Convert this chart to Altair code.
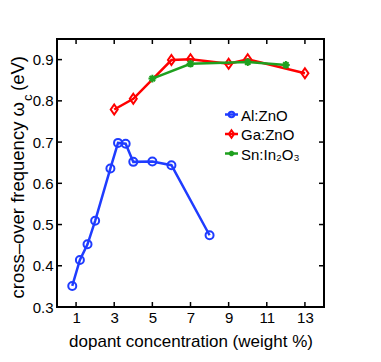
import altair as alt
import pandas as pd

al_x = [0.8, 1.2, 1.6, 2.0, 2.8, 3.2, 3.6, 4.0, 5.0, 6.0, 8.0]
al_y = [0.351, 0.414, 0.452, 0.509, 0.636, 0.698, 0.696, 0.652, 0.653, 0.644, 0.474]
ga_x = [3, 4, 6, 7, 9, 10, 13]
ga_y = [0.779, 0.805, 0.899, 0.901, 0.890, 0.901, 0.867]
sn_x = [5, 7, 10, 12]
sn_y = [0.854, 0.890, 0.894, 0.887]
x_ticks = [1, 3, 5, 7, 9, 11, 13]
y_ticks = [0.3, 0.4, 0.5, 0.6, 0.7, 0.8, 0.9]
series = ["Al:ZnO", "Ga:ZnO", "Sn:In₂O₃"]
colors = ["#1f3cff", "#ff0000", "#1fa01f"]

W, H = 267, 268
FONT = "Liberation Sans"

DIAMOND = "M0,-1L0.7,0L0,1L-0.7,0Z"
STAR = "M-1,0L1,0M0,-1L0,1M-0.7,-0.7L0.7,0.7M-0.7,0.7L0.7,-0.7"

xs = alt.Scale(domain=[0, 14], nice=False, zero=False)
ys = alt.Scale(domain=[0.3, 0.95], nice=False, zero=False)

xax = alt.Axis(values=x_ticks, ticks=False, domain=False, grid=False, labelFont=FONT,
               labelFontSize=15, labelColor="black", labelPadding=3,
               title="dopant concentration (weight %)", titleFont=FONT, titleFontSize=17,
               titleFontWeight="normal", titleColor="black", titlePadding=8)
yax = alt.Axis(values=y_ticks, ticks=False, domain=False, grid=False, labelFont=FONT,
               labelFontSize=15, labelColor="black", labelPadding=4, format=".1f", title="")

def series_layers(xv, yv, color, shape, size, first=False):
    df = pd.DataFrame({"x": xv, "y": yv})
    X = alt.X("x:Q", scale=xs, axis=xax) if first else alt.X("x:Q", scale=xs)
    Y = alt.Y("y:Q", scale=ys, axis=yax) if first else alt.Y("y:Q", scale=ys)
    line = alt.Chart(df).mark_line(color=color, strokeWidth=2.5).encode(x=X, y=Y)
    pts = alt.Chart(df).mark_point(shape=shape, size=size, filled=False, color=color,
                                   strokeWidth=2, opacity=1).encode(x="x:Q", y="y:Q")
    return [line, pts]

layers = []
layers += series_layers(al_x, al_y, colors[0], "circle", 64, first=True)
layers += series_layers(ga_x, ga_y, colors[1], DIAMOND, 100)
layers += series_layers(sn_x, sn_y, colors[2], STAR, 60)

# inward ticks on all four sides
xt = pd.DataFrame({"x": x_ticks})
yt = pd.DataFrame({"y": y_ticks})
layers.append(alt.Chart(xt).mark_rule(color="black", strokeWidth=1.5).encode(
    x=alt.X("x:Q", scale=xs), y=alt.value(H), y2=alt.value(H - 5)))
layers.append(alt.Chart(xt).mark_rule(color="black", strokeWidth=1.5).encode(
    x=alt.X("x:Q", scale=xs), y=alt.value(0), y2=alt.value(5)))
layers.append(alt.Chart(yt).mark_rule(color="black", strokeWidth=1.5).encode(
    y=alt.Y("y:Q", scale=ys), x=alt.value(0), x2=alt.value(5)))
layers.append(alt.Chart(yt).mark_rule(color="black", strokeWidth=1.5).encode(
    y=alt.Y("y:Q", scale=ys), x=alt.value(W), x2=alt.value(W - 5)))

# legend
leg_y = [75.5, 95, 114.5]
shapes = ["circle", DIAMOND, STAR]
sizes = [30, 55, 30]
one = pd.DataFrame({"a": [0]})
for i, name in enumerate(series):
    layers.append(alt.Chart(one).mark_rule(color=colors[i], strokeWidth=2.5).encode(
        x=alt.value(168), x2=alt.value(181), y=alt.value(leg_y[i])))
    layers.append(alt.Chart(one).mark_point(shape=shapes[i], size=sizes[i], filled=False,
                                            color=colors[i], strokeWidth=2, opacity=1).encode(
        x=alt.value(174.5), y=alt.value(leg_y[i])))
    layers.append(alt.Chart(one).mark_text(text=name, font=FONT, fontSize=15, color="black",
                                           align="left", baseline="middle").encode(
        x=alt.value(184), y=alt.value(leg_y[i] + 1)))

# y-axis title with subscript
layers.append(alt.Chart(one).mark_text(text="cross–over frequency ω", font=FONT, fontSize=18.5,
                                       color="black", angle=270, align="right",
                                       baseline="alphabetic").encode(
    x=alt.value(-33), y=alt.value(63)))
layers.append(alt.Chart(one).mark_text(text="c", font=FONT, fontSize=13,
                                       color="black", angle=270, align="left",
                                       baseline="alphabetic").encode(
    x=alt.value(-25), y=alt.value(62)))
layers.append(alt.Chart(one).mark_text(text="(eV)", font=FONT, fontSize=18.5,
                                       color="black", angle=270, align="left",
                                       baseline="alphabetic").encode(
    x=alt.value(-33), y=alt.value(52)))

chart = alt.layer(*layers).properties(
    width=W, height=H,
    autosize=alt.AutoSizeParams(type="none"),
    padding={"left": 49, "top": 31, "right": 40, "bottom": 50},
).configure_view(stroke="black", strokeWidth=2)

chart.save("out.html", embed_options={"renderer": "svg", "actions": False})
